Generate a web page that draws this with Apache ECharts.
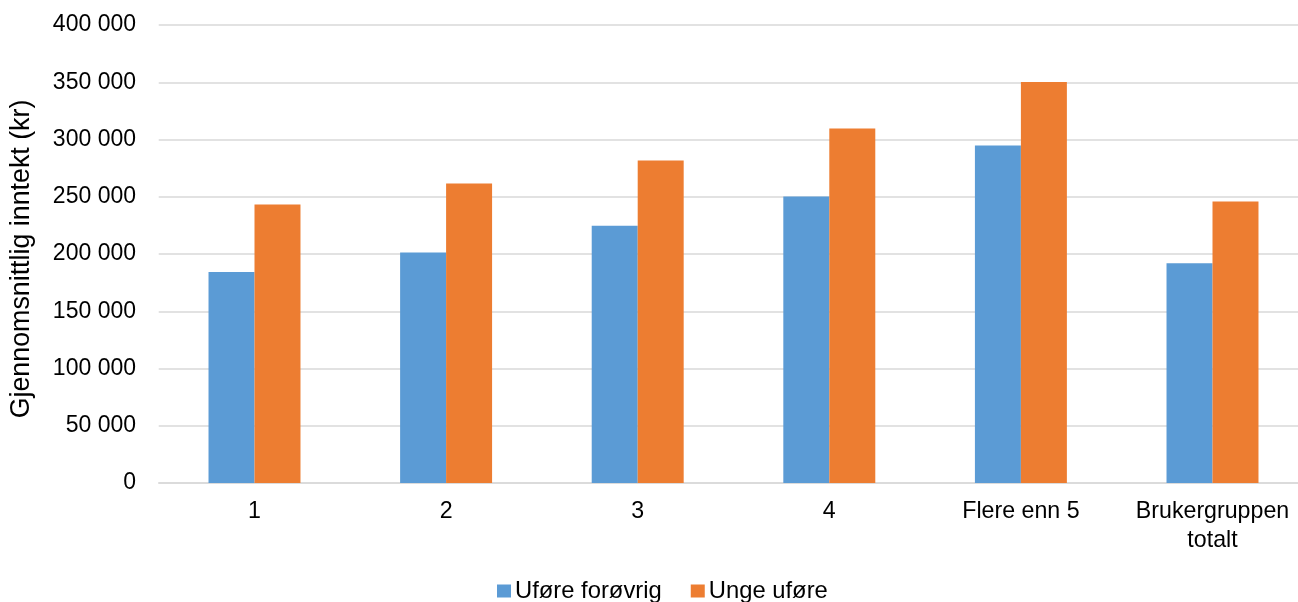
<!DOCTYPE html>
<html>
<head>
<meta charset="utf-8">
<script src="https://cdn.jsdelivr.net/npm/echarts@6/dist/echarts.min.js"></script>
<style>
html,body{margin:0;padding:0;background:#fff;}
#chart{width:1298px;height:602px;}
</style>
</head>
<body>
<div id="chart"></div>
<script>
const categories = ['1', '2', '3', '4', 'Flere enn 5', 'Brukergruppen\ntotalt'];
const seriesNames = ['Uføre forøvrig', 'Unge uføre'];
const uforeForovrig = [184200, 201300, 224700, 250300, 294800, 192000];
const ungeUfore = [243300, 261600, 281700, 309700, 350200, 245900];
const yAxisTitle = 'Gjennomsnittlig inntekt (kr)';

const font = 'Liberation Sans, Arial, sans-serif';
const chart = echarts.init(document.getElementById('chart'));
chart.setOption({
  animation: false,
  backgroundColor: '#ffffff',
  textStyle: { fontFamily: font },
  grid: { left: 158.7, width: 1149.6, top: 25, bottom: 119, containLabel: false, outerBoundsMode: 'none' },
  legend: {
    top: 579,
    left: 497,
    padding: 0,
    itemWidth: 14,
    itemHeight: 13,
    itemGap: 29,
    icon: 'rect',
    textStyle: { fontSize: 23.8, color: '#000', fontFamily: font, padding: [0, 0, 0, -1] },
    data: seriesNames
  },
  xAxis: {
    type: 'category',
    data: categories,
    axisLine: { show: true, lineStyle: { color: '#d9d9d9', width: 1.5 } },
    axisTick: { show: false },
    axisLabel: { fontSize: 23.2, color: '#000', fontFamily: font, margin: 14, lineHeight: 29, interval: 0 }
  },
  yAxis: {
    type: 'value',
    min: 0,
    max: 400000,
    interval: 50000,
    name: yAxisTitle,
    nameLocation: 'middle',
    nameGap: 124,
    nameRotate: 90,
    nameTextStyle: { fontSize: 26.8, color: '#000', fontFamily: font, padding: [0, 10, 0, 0] },
    axisLine: { show: false },
    axisTick: { show: false },
    splitLine: { lineStyle: { color: '#d9d9d9', width: 1.5 } },
    axisLabel: {
      fontSize: 23, color: '#000', fontFamily: font, margin: 22.7,
      formatter: v => String(v).replace(/\B(?=(\d{3})+(?!\d))/g, ' ')
    }
  },
  series: [
    { name: seriesNames[0], type: 'bar', data: uforeForovrig, barGap: '0%', barCategoryGap: '52%',
      itemStyle: { color: '#5B9BD5' } },
    { name: seriesNames[1], type: 'bar', data: ungeUfore, barGap: '0%', barCategoryGap: '52%',
      itemStyle: { color: '#ED7D31' } }
  ]
});
</script>
</body>
</html>
